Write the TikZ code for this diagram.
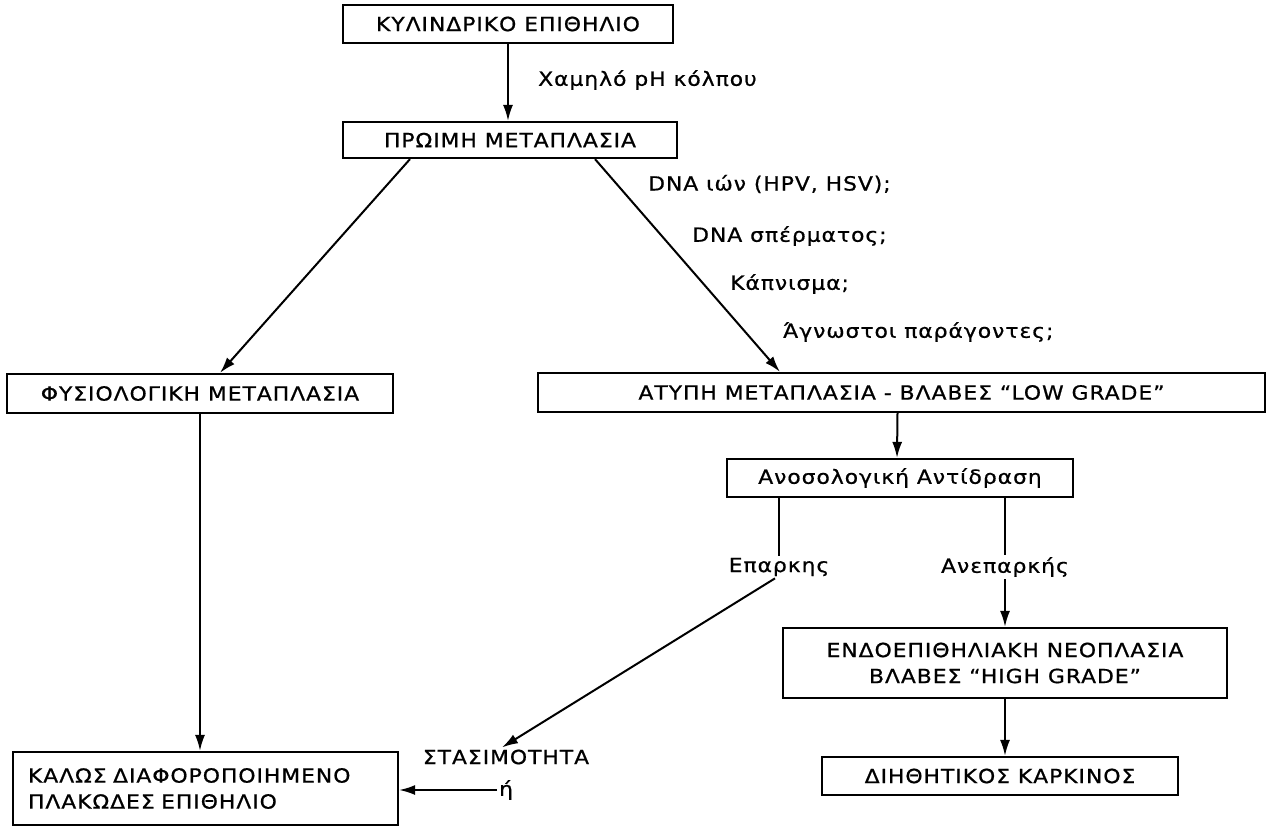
\documentclass[tikz,border=0pt]{standalone}
\usepackage{fontspec}
\setmainfont{DejaVu Sans}[FakeStretch=1.12,LetterSpace=5,FakeBold=0.8]
\usetikzlibrary{arrows.meta}

\begin{document}
\begin{tikzpicture}[x=1pt,y=-1pt,
        font=\fontsize{19.5}{26}\selectfont,
        box/.style={draw,line width=2.2pt,inner sep=0pt},
        lbl/.style={inner sep=2pt},
        arr/.style={line width=2pt,-{Latex[length=16pt,width=10pt]}},
        con/.style={line width=2pt}]
        \useasboundingbox (0,0) rectangle (1269,827) ;
        %\draw[very thin,gray,step=50] (0,0) grid (1269,827) ;
        \node[box,minimum width=330pt,minimum height=38pt] (kyl) at (508,24) {ΚΥΛΙΝΔΡΙΚΟ ΕΠΙΘΗΛΙΟ} ;
        \node[box,minimum width=334pt,minimum height=36pt] (proimi) at (510,140) {ΠΡΩΙΜΗ ΜΕΤΑΠΛΑΣΙΑ} ;
        \node[box,minimum width=386pt,minimum height=39pt] (fysiol) at (200,393.5) {ΦΥΣΙΟΛΟΓΙΚΗ ΜΕΤΑΠΛΑΣΙΑ} ;
        \node[box,minimum width=727pt,minimum height=39pt] (atypi) at (901.5,392.5)
          {ΑΤΥΠΗ ΜΕΤΑΠΛΑΣΙΑ - ΒΛΑΒΕΣ ``LOW GRADE''} ;
        \node[box,minimum width=346pt,minimum height=38pt] (anoso) at (900,478) {Ανοσολογική Αντίδραση} ;
        \node[box,minimum width=444pt,minimum height=70pt,align=center] (endo) at (1005,663)
          {ΕΝΔΟΕΠΙΘΗΛΙΑΚΗ ΝΕΟΠΛΑΣΙΑ\\ΒΛΑΒΕΣ ``HIGH GRADE''} ;
        \node[box,minimum width=356pt,minimum height=38pt] (dieth) at (1000,776) {ΔΙΗΘΗΤΙΚΟΣ ΚΑΡΚΙΝΟΣ} ;
        \node[box,minimum height=73pt,text width=355pt,inner xsep=15pt,align=left] (kalos) at (205.5,788.5)
          {ΚΑΛΩΣ ΔΙΑΦΟΡΟΠΟΙΗΜΕΝΟ\\ΠΛΑΚΩΔΕΣ ΕΠΙΘΗΛΙΟ} ;

        % labels
        \node[lbl,anchor=west] (lowph) at (536,80) {Χαμηλό pH κόλπου} ;
        \node[lbl,anchor=west] (dnaion) at (646,184) {DNA ιών (HPV, HSV);} ;
        \node[lbl,anchor=west] (dnasp) at (690,236) {DNA σπέρματος;} ;
        \node[lbl,anchor=west] (kapn) at (728,284) {Κάπνισμα;} ;
        \node[lbl,anchor=west] (agn) at (781,332) {Άγνωστοι παράγοντες;} ;
        \node[lbl] (eparkis) at (779,567) {Επαρκης} ;
        \node[lbl] (aneparkis) at (1005,567) {Ανεπαρκής} ;
        \node[lbl] (stasim) at (506,757) {ΣΤΑΣΙΜΟΤΗΤΑ} ;
        \node[lbl,anchor=west] (i) at (497,790) {ή} ;

        \draw[arr] (kyl.south) -- (kyl.south |- proimi.north) ;
        \draw[arr] ([xshift=-100pt]proimi.south) -- ([xshift=20pt]fysiol.north) ;
        \draw[arr] ([xshift=85pt]proimi.south) -- ([xshift=-121.5pt]atypi.north) ;
        \draw[arr] ([xshift=-4pt]atypi.south) -- ([xshift=-3pt]anoso.north) ;
        \draw[con] (anoso.south -| eparkis.north) -- (eparkis.north) ;
        \draw[con] (anoso.south -| aneparkis.north) -- (aneparkis.north) ;
        \draw[arr] (aneparkis.south) -- (aneparkis.south |- endo.north) ;
        \draw[arr] ([xshift=-4pt]eparkis.south) -- ([xshift=-4pt]stasim.north) ;
        \draw[arr] (fysiol.south) -- (fysiol.south |- kalos.north) ;
        \draw[arr] (i.west) -- (i.west -| kalos.east) ;
        \draw[arr] (endo.south) -- (endo.south |- dieth.north) ;
      \end{tikzpicture}
\end{document}
